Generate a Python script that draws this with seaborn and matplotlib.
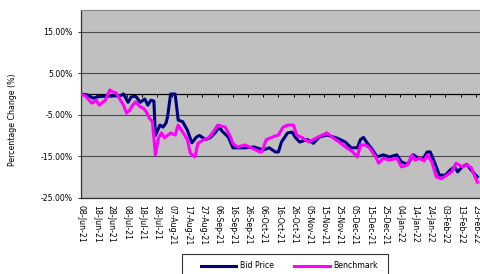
import matplotlib
matplotlib.use('Agg')
import matplotlib.pyplot as plt
import matplotlib.dates as mdates
from matplotlib.patches import Rectangle
from matplotlib.ticker import FuncFormatter
import pandas as pd
import seaborn as sns

# ---------------- data ----------------
bid_dates = [
    '2021-06-08', '2021-06-12', '2021-06-16', '2021-06-20', '2021-06-27', '2021-07-04',
    '2021-07-06', '2021-07-09', '2021-07-11', '2021-07-14', '2021-07-17', '2021-07-20',
    '2021-07-22', '2021-07-24', '2021-07-26', '2021-07-27', '2021-07-30', '2021-08-01',
    '2021-08-03', '2021-08-04', '2021-08-06', '2021-08-09', '2021-08-11', '2021-08-14',
    '2021-08-17', '2021-08-20', '2021-08-23', '2021-08-25', '2021-08-29', '2021-09-01',
    '2021-09-04', '2021-09-07', '2021-09-09', '2021-09-13', '2021-09-16', '2021-09-24',
    '2021-09-30', '2021-10-06', '2021-10-10', '2021-10-14', '2021-10-16', '2021-10-18',
    '2021-10-22', '2021-10-25', '2021-10-27', '2021-10-30', '2021-11-04', '2021-11-08',
    '2021-11-12', '2021-11-17', '2021-11-24', '2021-11-29', '2021-12-03', '2021-12-07',
    '2021-12-09', '2021-12-11', '2021-12-13', '2021-12-17', '2021-12-20', '2021-12-24',
    '2021-12-28', '2022-01-02', '2022-01-05', '2022-01-09', '2022-01-13', '2022-01-16',
    '2022-01-19', '2022-01-22', '2022-01-24', '2022-01-27', '2022-01-30', '2022-02-03',
    '2022-02-06', '2022-02-09', '2022-02-11', '2022-02-14', '2022-02-17', '2022-02-20',
    '2022-02-24']
bid_values = [
    0.0, -0.2, -1.0, -0.6, -0.5, -0.4,
    0.0, -2.0, -0.7, -0.5, -2.0, -1.2,
    -2.7, -1.5, -1.7, -10.0, -7.5, -8.0,
    -7.0, -5.5, 0.0, 0.0, -6.3, -6.7,
    -8.7, -11.8, -10.4, -10.0, -11.0, -10.6,
    -9.5, -8.0, -9.0, -10.4, -13.0, -13.0,
    -12.8, -13.5, -13.0, -14.0, -14.0, -11.6,
    -9.4, -9.2, -10.4, -11.6, -11.0, -11.9,
    -10.4, -9.9, -10.7, -11.6, -13.0, -13.0,
    -11.0, -10.5, -11.6, -13.5, -15.2, -14.7,
    -15.2, -14.7, -16.4, -17.0, -14.7, -15.5,
    -15.8, -14.0, -14.0, -16.7, -19.6, -19.6,
    -18.4, -17.6, -18.8, -17.6, -17.0, -18.4,
    -20.0]

bench_dates = [
    '2021-06-08', '2021-06-11', '2021-06-15', '2021-06-18', '2021-06-20', '2021-06-24',
    '2021-06-27', '2021-06-29', '2021-07-01', '2021-07-04', '2021-07-06', '2021-07-08',
    '2021-07-10', '2021-07-12', '2021-07-14', '2021-07-17', '2021-07-19', '2021-07-21',
    '2021-07-23', '2021-07-25', '2021-07-27', '2021-07-29', '2021-07-31', '2021-08-02',
    '2021-08-06', '2021-08-09', '2021-08-11', '2021-08-14', '2021-08-17', '2021-08-19',
    '2021-08-22', '2021-08-24', '2021-08-28', '2021-08-31', '2021-09-03', '2021-09-06',
    '2021-09-09', '2021-09-11', '2021-09-14', '2021-09-16', '2021-09-19', '2021-09-24',
    '2021-09-28', '2021-10-04', '2021-10-05', '2021-10-08', '2021-10-12', '2021-10-16',
    '2021-10-19', '2021-10-22', '2021-10-26', '2021-10-28', '2021-11-01', '2021-11-05',
    '2021-11-11', '2021-11-17', '2021-11-21', '2021-11-25', '2021-11-30', '2021-12-04',
    '2021-12-07', '2021-12-09', '2021-12-12', '2021-12-15', '2021-12-19', '2021-12-21',
    '2021-12-24', '2021-12-28', '2022-01-02', '2022-01-05', '2022-01-09', '2022-01-12',
    '2022-01-14', '2022-01-17', '2022-01-20', '2022-01-22', '2022-01-25', '2022-01-28',
    '2022-01-31', '2022-02-04', '2022-02-07', '2022-02-10', '2022-02-14', '2022-02-17',
    '2022-02-20', '2022-02-22', '2022-02-24']
bench_values = [
    0.0, -0.5, -2.2, -1.5, -2.7, -1.5,
    1.0, 0.5, 0.3, -1.5, -2.7, -4.6,
    -3.9, -2.7, -1.9, -3.1, -3.4, -4.3,
    -5.8, -6.7, -14.7, -10.6, -9.4, -10.6,
    -9.4, -9.9, -7.5, -9.2, -11.0, -14.3,
    -15.2, -11.9, -11.0, -10.6, -9.2, -7.5,
    -7.8, -8.0, -10.0, -11.9, -12.8, -12.3,
    -13.0, -14.0, -14.0, -11.0, -10.4, -9.9,
    -8.0, -7.5, -7.5, -9.9, -10.6, -11.6,
    -10.4, -9.4, -10.6, -11.6, -13.0, -14.0,
    -15.2, -12.3, -12.3, -13.0, -15.2, -16.7,
    -15.5, -16.0, -15.5, -17.6, -17.1, -14.7,
    -16.0, -15.5, -16.2, -14.7, -16.4, -20.0,
    -20.5, -19.6, -18.8, -16.7, -17.6, -17.1,
    -17.8, -19.6, -21.3]

series_names = ['Bid Price', 'Benchmark']
series_colors = ['#000080', '#ff00ff']
tick_start, tick_end = '2021-06-08', '2022-02-23'
y_ticks = [-25, -15, -5, 5, 15]
y_label = 'Percentage Change (%)'

# ---------------- figure ----------------
plt.rcParams['font.family'] = ['DejaVu Sans']
W, H = 480, 274
fig = plt.figure(figsize=(W / 100, H / 100), dpi=100)
fig.patch.set_facecolor('white')
ax = fig.add_axes([81 / W, 1 - 197.5 / H, (481 - 81) / W, (197.5 - 10) / H])
ax.set_facecolor('#c0c0c0')

bid = pd.DataFrame({'Date': pd.to_datetime(bid_dates), 'Change': bid_values})
bench = pd.DataFrame({'Date': pd.to_datetime(bench_dates), 'Change': bench_values})

sns.lineplot(data=bid, x='Date', y='Change', color=series_colors[0], lw=2.2,
             ax=ax, label=series_names[0], legend=False, estimator=None,
             zorder=3)
sns.lineplot(data=bench, x='Date', y='Change', color=series_colors[1], lw=2.2,
             ax=ax, label=series_names[1], legend=False, estimator=None,
             zorder=4)

start = pd.Timestamp(tick_start)
ax.set_xlim(start, start + pd.Timedelta(days=263.4))
ylim = (-25, 20.3)
ax.set_ylim(*ylim)

ticks = pd.date_range(tick_start, tick_end, freq='10D')
ax.set_xticks(ticks)
ax.xaxis.set_major_formatter(mdates.DateFormatter('%d-%b-%y'))
ax.tick_params(axis='x', length=0, pad=5.4, labelsize=5.6, labelrotation=-90,
               labelcolor='black')
for lab in ax.get_xticklabels():
    lab.set_ha('center')
    lab.set_va('top')

ax.set_yticks(y_ticks)
ax.yaxis.set_major_formatter(FuncFormatter(lambda v, p: f'{v:.2f}%'))
ax.tick_params(axis='y', left=True, direction='out', length=2.4, width=0.7,
               color='#303030', pad=3.5, labelsize=5.6)
ax.yaxis.grid(True, color='#4a4a4a', lw=0.8)
ax.xaxis.grid(False)
ax.set_axisbelow(True)
ax.set_xlabel('')
ax.set_ylabel('')

for side in ['left', 'bottom']:
    ax.spines[side].set_color('#303030')
    ax.spines[side].set_linewidth(0.9)
ax.spines['top'].set_color('#8c8c8c')
ax.spines['top'].set_linewidth(0.9)
ax.spines['right'].set_visible(False)

# category axis crossing at zero with outward tick marks
loc0 = (0 - ylim[0]) / (ylim[1] - ylim[0])
sec = ax.secondary_xaxis(loc0)
sec.set_alignment('bottom')
sec.set_xticks(mdates.date2num(ticks))
sec.tick_params(axis='x', direction='out', length=2.2, width=0.7, color='black',
                labelbottom=False, labeltop=False)
sec.spines['bottom'].set_color('black')
sec.spines['bottom'].set_linewidth(0.9)

fig.text(13 / W, 1 - 120 / H, y_label, rotation=90, ha='center', va='center',
         fontsize=5.7, color='black')

# legend
fig.add_artist(Rectangle((181.7 / W, -0.03), (388 - 181.7) / W, 0.03 + (274 - 254) / H,
                         transform=fig.transFigure, fill=True, facecolor='white',
                         edgecolor='#333333', lw=0.8))
handles, labels = ax.get_legend_handles_labels()
fig.legend(handles, labels, loc='center left',
           bbox_to_anchor=(200.7 / W, 1 - 266 / H), ncol=2, frameon=False,
           fontsize=5.6, handlelength=4.6, handletextpad=0.45, columnspacing=2.57,
           borderpad=0, borderaxespad=0)

fig.savefig('out.png', dpi=100)
